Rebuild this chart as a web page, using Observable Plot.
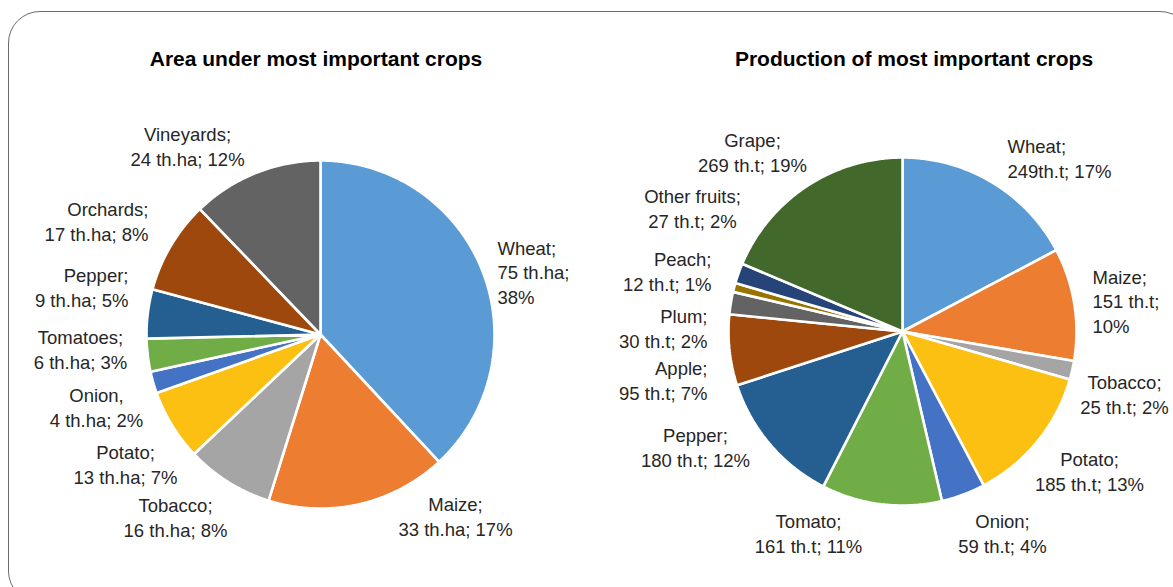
<!DOCTYPE html>
<html><head><meta charset="utf-8">
<script src="https://cdn.jsdelivr.net/npm/d3@7"></script>
<script src="https://cdn.jsdelivr.net/npm/@observablehq/plot@0.6"></script>
<style>
html,body{margin:0;padding:0;background:#fff;overflow:hidden;}
#wrap{position:relative;width:1173px;height:587px;overflow:hidden;}
#frame{position:absolute;left:8px;top:11px;width:1184px;height:592px;border:1.5px solid #6b6b6b;border-radius:32px;box-sizing:border-box;}
.title{position:absolute;top:47px;font-family:"Liberation Sans",Arial,sans-serif;font-weight:bold;font-size:21px;line-height:24px;color:#000;transform:translateX(-50%);white-space:nowrap;}
.plot{position:absolute;top:0;}
</style></head><body>
<div id="wrap"><div id="frame"></div>
<div class="title" style="left:316px">Area under most important crops</div>
<div class="title" style="left:914px">Production of most important crops</div>
</div>
<script>
// ---- data ----
const areaCrops   = ["Wheat","Maize","Tobacco","Potato","Onion","Tomatoes","Pepper","Orchards","Vineyards"];
const areaValues  = [75, 33, 16, 13, 4, 6, 9, 17, 24];           // th.ha
const areaLabels  = ["Wheat;\n75 th.ha;\n38%","Maize;\n33 th.ha; 17%","Tobacco;\n16 th.ha; 8%","Potato;\n13 th.ha; 7%","Onion,\n4 th.ha; 2%","Tomatoes;\n6 th.ha; 3%","Pepper;\n9 th.ha; 5%","Orchards;\n17 th.ha; 8%","Vineyards;\n24 th.ha; 12%"];

const prodCrops   = ["Wheat","Maize","Tobacco","Potato","Onion","Tomato","Pepper","Apple","Plum","Peach","Other fruits","Grape"];
const prodValues  = [249, 151, 25, 185, 59, 161, 180, 95, 30, 12, 27, 269];   // th.t
const prodLabels  = ["Wheat;\n249th.t; 17%","Maize;\n151 th.t;\n10%","Tobacco;\n25 th.t; 2%","Potato;\n185 th.t; 13%","Onion;\n59 th.t; 4%","Tomato;\n161 th.t; 11%","Pepper;\n180 th.t; 12%","Apple;\n95 th.t; 7%","Plum;\n30 th.t; 2%","Peach;\n12 th.t; 1%","Other fruits;\n27 th.t; 2%","Grape;\n269 th.t; 19%"];

// ---- styles / layout ----
const areaColors = ["#5B9BD5","#ED7D31","#A5A5A5","#FBC012","#4472C4","#70AD47","#255E91","#9E480E","#636363"];
const prodColors = ["#5B9BD5","#ED7D31","#A5A5A5","#FBC012","#4472C4","#70AD47","#255E91","#9E480E","#636363","#997300","#264478","#43682B"];
const R = 174; // pie radius in px
// label offsets from pie centre in px [dx, dy, anchor]
const areaLabelLayout = [[177,-63,"start"],[135,181,"middle"],[-145,182,"middle"],[-195,129,"middle"],[-224,72,"middle"],[-240,14,"middle"],[-192,-48,"end"],[-172,-114,"end"],[-133,-189,"middle"]];
const prodLabelLayout = [[105,-174,"start"],[190,-31,"start"],[222,62,"middle"],[187,139,"middle"],[100,201,"middle"],[-94,201,"middle"],[-207,115,"middle"],[-195,48,"end"],[-195,-4,"end"],[-191,-61,"end"],[-210,-124,"middle"],[-150,-180,"middle"]];
const LABEL_FONT = '"Liberation Sans",Arial,sans-serif';

function sliceRows(names, values) {
  const arcs = d3.pie().sort(null).value(d => d)(values);
  const rows = [];
  arcs.forEach((a, i) => {
    const n = names[i];
    rows.push({name: n, x: 0, y: 0});
    const steps = Math.max(2, Math.ceil((a.endAngle - a.startAngle) / (Math.PI / 360)));
    for (let k = 0; k <= steps; k++) {
      const t = a.startAngle + (a.endAngle - a.startAngle) * k / steps;
      rows.push({name: n, x: Math.sin(t), y: Math.cos(t)});
    }
    rows.push({name: n, x: 0, y: 0});
  });
  return rows;
}

function drawPie({names, values, labels, colors, layout, cx, cy, width, height}) {
  const rows = sliceRows(names, values);
  const lab = names.map((n, i) => ({text: labels[i], x: layout[i][0] / R, y: -layout[i][1] / R, anchor: layout[i][2]}));
  return Plot.plot({
    width, height, margin: 0,
    style: {background: "transparent", overflow: "visible"},
    x: {domain: [-cx / R, (width - cx) / R], axis: null},
    y: {domain: [-(height - cy) / R, cy / R], axis: null},
    color: {domain: names, range: colors},
    marks: [
      Plot.line(rows, {x: "x", y: "y", z: "name", fill: "name", stroke: "white", strokeWidth: 2.6, curve: "linear", strokeLinejoin: "miter"}),
      ...["start", "middle", "end"].map(a =>
        Plot.text(lab.filter(d => d.anchor === a), {x: "x", y: "y", text: "text", textAnchor: a, fontSize: 18.5, lineHeight: 1.32, fill: "#262626", fontFamily: LABEL_FONT}))
    ]
  });
}

const wrap = document.getElementById("wrap");
const p1 = drawPie({names: areaCrops, values: areaValues, labels: areaLabels, colors: areaColors, layout: areaLabelLayout, cx: 320, cy: 334, width: 586, height: 587});
p1.classList.add("plot"); p1.style.left = "0px";
wrap.appendChild(p1);
const p2 = drawPie({names: prodCrops, values: prodValues, labels: prodLabels, colors: prodColors, layout: prodLabelLayout, cx: 316, cy: 331, width: 587, height: 587});
p2.classList.add("plot"); p2.style.left = "586px";
wrap.appendChild(p2);
</script>
</body></html>
